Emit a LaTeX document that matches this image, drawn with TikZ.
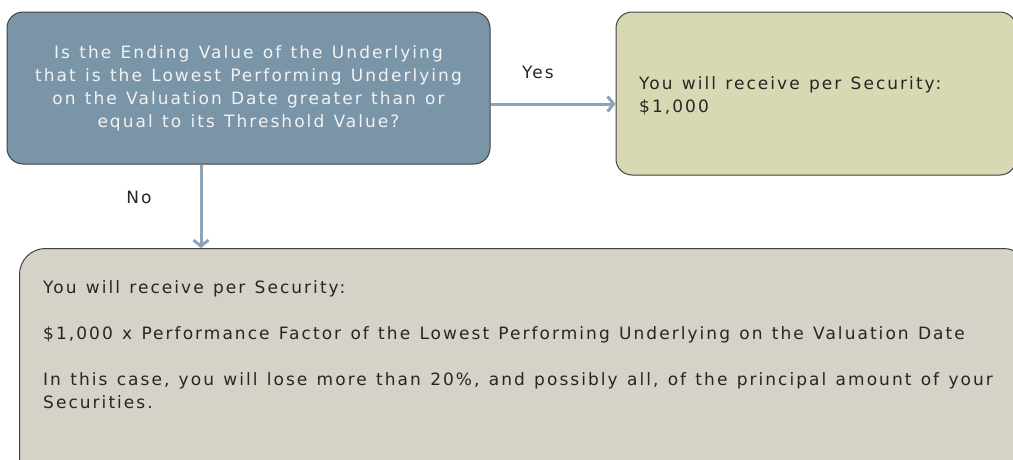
\documentclass[tikz,border=0pt]{standalone}
\usepackage{fontspec}
\setmainfont{DejaVu Sans}[LetterSpace=12,WordSpace=1.25]
\usetikzlibrary{arrows.meta,calc}
\definecolor{qfill}{HTML}{7A95A8}
\definecolor{yfill}{HTML}{D8D8B3}
\definecolor{nfill}{HTML}{D6D2C7}
\definecolor{arrcol}{HTML}{8DA4B7}
\definecolor{edge}{HTML}{404040}
\definecolor{ink}{HTML}{262626}

\begin{document}
\begin{tikzpicture}[x=1pt,y=-1pt,
	box/.style={draw=edge, line width=1pt, rounded corners=16pt, inner sep=0pt},
	arr/.style={draw=arrcol, line width=3pt, -{Straight Barb[length=6pt,width=15pt]}},
	txt/.style={font=\fontsize{17}{23}\selectfont, text=ink, inner sep=0pt}]
	\useasboundingbox (0,0) rectangle (1013,459);
	% the three boxes
	\node[box, fill=qfill, minimum width=483pt, minimum height=152pt,
		align=center, text=white!95!black, font=\fontsize{17}{23}\selectfont] (q) at (248.5,88)
		{Is the Ending Value of the Underlying\\that is the Lowest Performing Underlying\\on the Valuation Date greater than or\\equal to its Threshold Value?};
	\node[box, fill=yfill, minimum width=400pt, minimum height=163pt] (yes) at (816,93.5) {};
	\node[box, fill=nfill, rounded corners=26pt, minimum width=1010pt, minimum height=240pt,
		anchor=north west] (low) at (19,248) {};
	% texts
	\node[txt, anchor=west, align=left] (yestxt) at (639,96)
		{You will receive per Security:\\\$1,000};
	\node[txt, anchor=north west, align=left] (lowtxt) at (43,280)
		{You will receive per Security:\\[23pt]
		\$1,000 x Performance Factor of the Lowest Performing Underlying on the Valuation Date\\[23pt]
		In this case, you will lose more than 20\%, and possibly all, of the principal amount of your\\
		Securities.};
	\node[txt] (ylab) at (538,72) {Yes};
	\node[txt] (nlab) at (139,197) {No};
	% arrows
	\draw[arr] ([yshift=-16pt]q.east) -- ([yshift=-16pt]q.east -| yes.west);
	\draw[arr] ([xshift=-47.5pt]q.south) -- ([xshift=-47.5pt]q.south |- low.north);
\end{tikzpicture}
\end{document}
